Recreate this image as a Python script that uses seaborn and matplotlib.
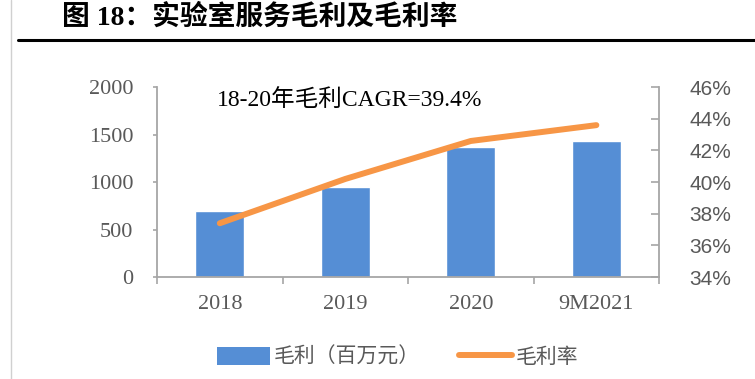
import matplotlib
matplotlib.use("Agg")
import matplotlib.pyplot as plt
from matplotlib.lines import Line2D
from matplotlib.patches import Patch
from matplotlib.ticker import FixedLocator, PercentFormatter
import pandas as pd
import seaborn as sns

# data
periods = ["2018", "2019", "2020", "9M2021"]
gross_profit = [700, 950, 1370, 1430]          # 毛利（百万元）
gross_margin = [37.4, 40.2, 42.6, 43.6]        # 毛利率 (%)

BAR_BLUE = "#558ED5"
LINE_ORANGE = "#F79646"
TICK_GREY = "#595959"
SPINE_GREY = "#A6A6A6"

sns.set_theme(style="white")
plt.rcParams["font.family"] = ["Liberation Serif", "Noto Sans CJK SC"]

df = pd.DataFrame({"period": periods, "profit": gross_profit, "margin": gross_margin})

fig = plt.figure(figsize=(7.55, 3.79), dpi=100)
ax = fig.add_axes([0.208, 0.269, 0.665, 0.501])

sns.barplot(data=df, x="period", y="profit", color=BAR_BLUE, width=0.39,
            saturation=1, ax=ax, zorder=2)
ax.set_xlim(-0.5, 3.5)
ax.set_ylim(0, 2000)
ax.set_yticks([0, 500, 1000, 1500, 2000])
ax.set_xlabel("")
ax.set_ylabel("")

ax2 = ax.twinx()
sns.lineplot(x=list(range(len(periods))), y=gross_margin, color=LINE_ORANGE,
             linewidth=4.3, solid_capstyle="round", ax=ax2, zorder=3)
ax2.set_ylim(34, 46)
ax2.set_yticks([34, 36, 38, 40, 42, 44, 46])
ax2.yaxis.set_major_formatter(PercentFormatter(decimals=0))
ax2.set_ylabel("")

# spines
for a in (ax, ax2):
    a.spines["top"].set_visible(False)
    for side in ("left", "bottom", "right"):
        a.spines[side].set_color(SPINE_GREY)
        a.spines[side].set_linewidth(1.3)
ax.spines["right"].set_visible(False)
ax2.spines["left"].set_visible(False)
ax2.spines["bottom"].set_visible(False)

# ticks
ax.tick_params(axis="y", direction="out", length=3, width=1.2, color=SPINE_GREY,
               labelsize=16, labelcolor=TICK_GREY, pad=14, left=True)
ax.tick_params(axis="x", which="major", length=0, labelsize=16, labelcolor=TICK_GREY, pad=13)
ax.xaxis.set_minor_locator(FixedLocator([-0.5, 0.5, 1.5, 2.5, 3.5]))
ax.tick_params(axis="x", which="minor", direction="out", length=5, width=1.2,
               color=SPINE_GREY, bottom=True)
ax2.tick_params(axis="y", direction="in", length=6, width=1.2, color=SPINE_GREY,
                labelsize=15, labelcolor=TICK_GREY, pad=22, right=True)
for lbl in ax2.get_yticklabels():
    lbl.set_family(["Liberation Sans", "Noto Sans CJK SC"])

# annotation
ax.text(0.12, 0.93, "18-20年毛利CAGR=39.4%", transform=ax.transAxes,
        fontsize=17, color="black", ha="left", va="center")

# title and rule
fig.text(0.082, 0.953, "图 18：实验室服务毛利及毛利率", fontsize=20, fontweight="bold",
         color="black", ha="left", va="center")
fig.add_artist(Line2D([0.024, 1.0], [0.894, 0.894], color="black", linewidth=2.2,
                      transform=fig.transFigure))
fig.add_artist(Line2D([0.014, 0.014], [0.0, 1.0], color="#D0D0D0", linewidth=1,
                      transform=fig.transFigure))

# legend
handles = [Patch(facecolor=BAR_BLUE, edgecolor="none"),
           Line2D([0], [0], color=LINE_ORANGE, linewidth=4.3, solid_capstyle="round")]
fig.legend(handles, ["毛利（百万元）", "毛利率"], loc="center", bbox_to_anchor=(0.527, 0.058),
           ncol=2, frameon=False, handlelength=2.5, handleheight=1.0, columnspacing=1.9,
           handletextpad=0.2,
           prop={"family": ["Noto Sans CJK SC"], "size": 15}, labelcolor=TICK_GREY)

fig.savefig("out.png", dpi=100)
